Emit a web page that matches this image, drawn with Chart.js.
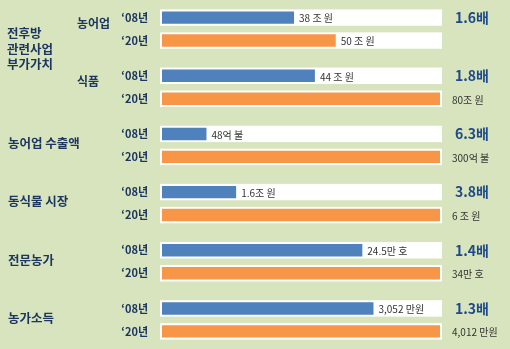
<!DOCTYPE html>
<html>
<head>
<meta charset="utf-8">
<script src="https://cdn.jsdelivr.net/npm/chart.js@4.4.0/dist/chart.umd.min.js"></script>
<style>
  html, body { margin: 0; padding: 0; background: #d7e4bd; }
  canvas { display: block; }
</style>
</head>
<body>
<canvas id="valueChain" width="510" height="349"></canvas>
<script>
  // ============== data ==============//
  const groups = ["농어업", "식품", "농어업 수출액", "동식물 시장", "전문농가", "농가소득"];
  const sectionLabel = ["전후방", "관련사업", "부가가치"];
  const years = ["‘08년", "‘20년"];
  const values08 = [38, 44, 48, 1.6, 24.5, 3052];
  const values20 = [50, 80, 300, 6, 34, 4012];
  const fullScale = [80, 80, 300, 6, 34, 4012];
  const labels08 = ["38 조 원", "44 조 원", "48억 불", "1.6조 원", "24.5만 호", "3,052 만원"];
  const labels20 = ["50 조 원", "80조 원", "300억 불", "6 조 원", "34만 호", "4,012 만원"];
  const ratios = ["1.6배", "1.8배", "6.3배", "3.8배", "1.4배", "1.3배"];

  const share08 = values08.map((v, i) => (v / fullScale[i]) * 100);
  const share20 = values20.map((v, i) => (v / fullScale[i]) * 100);
  const valueLabels = [labels08, labels20];

  const KR = '"Noto Sans CJK KR", "Noto Sans", sans-serif';
  const NAVY = "#1c3660";

  // white strip behind every bar
  const panels = {
    id: "panels",
    beforeDatasetsDraw(chart) {
      const ctx = chart.ctx;
      const area = chart.chartArea;
      ctx.save();
      ctx.fillStyle = "#ffffff";
      chart.data.datasets.forEach((ds, di) => {
        chart.getDatasetMeta(di).data.forEach((bar) => {
          const p = bar.getProps(["y", "height"], true);
          ctx.fillRect(area.left - 2, p.y - p.height / 2 - 2, area.right - area.left + 4, p.height + 4);
        });
      });
      ctx.restore();
    },
  };

  // all the texts
  const texts = {
    id: "texts",
    afterDatasetsDraw(chart) {
      const ctx = chart.ctx;
      const area = chart.chartArea;
      const yScale = chart.scales.y;
      ctx.save();
      ctx.textBaseline = "middle";

      chart.data.datasets.forEach((ds, di) => {
        chart.getDatasetMeta(di).data.forEach((bar, i) => {
          const p = bar.getProps(["x", "y"], true);
          // year tag
          ctx.font = "bold 11px " + KR;
          ctx.fillStyle = NAVY;
          ctx.textAlign = "right";
          ctx.fillText(years[di], 148, p.y);
          // value tag
          ctx.font = "10px " + KR;
          ctx.fillStyle = "#333333";
          ctx.textAlign = "left";
          const x = ds.data[i] >= 99 ? area.right + 12 : p.x + 5;
          ctx.fillText(valueLabels[di][i], x, p.y + 1);
          // growth ratio
          if (di === 0) {
            ctx.font = "bold 14px " + KR;
            ctx.fillStyle = "#1f4a8a";
            ctx.textAlign = "center";
            ctx.fillText(ratios[i], 472, p.y);
          }
        });
      });

      // group names
      ctx.fillStyle = NAVY;
      ctx.textAlign = "left";
      groups.forEach((g, i) => {
        const y = yScale.getPixelForValue(i);
        if (i < 2) {
          ctx.font = "bold 12px " + KR;
          ctx.fillText(g, 77, y - 6);
        } else {
          ctx.font = "bold 12.5px " + KR;
          ctx.fillText(g, 8, y - 2);
        }
      });
      const mid = (yScale.getPixelForValue(0) + yScale.getPixelForValue(1)) / 2 - 9;
      ctx.font = "bold 12.5px " + KR;
      sectionLabel.forEach((s, k) => {
        ctx.fillText(s, 7, mid + (k - 1) * 15.5);
      });
      ctx.restore();
    },
  };

  const valueChain = document.getElementById("valueChain");
  new Chart(valueChain, {
    type: "bar",
    plugins: [panels, texts],
    data: {
      labels: groups,
      datasets: [
        {
          label: years[0],
          data: share08,
          backgroundColor: "#4f81bd",
          categoryPercentage: 0.79,
          barPercentage: 0.54,
        },
        {
          label: years[1],
          data: share20,
          backgroundColor: "#f79646",
          categoryPercentage: 0.79,
          barPercentage: 0.54,
        },
      ],
    },
    options: {
      indexAxis: "y",
      responsive: false,
      animation: false,
      layout: {
        padding: { left: 162, right: 70, top: 0, bottom: 0 },
      },
      scales: {
        x: { display: false, min: 0, max: 100 },
        y: { display: false },
      },
      plugins: {
        legend: { display: false },
        tooltip: { enabled: false },
      },
    },
  });
</script>
</body>
</html>
